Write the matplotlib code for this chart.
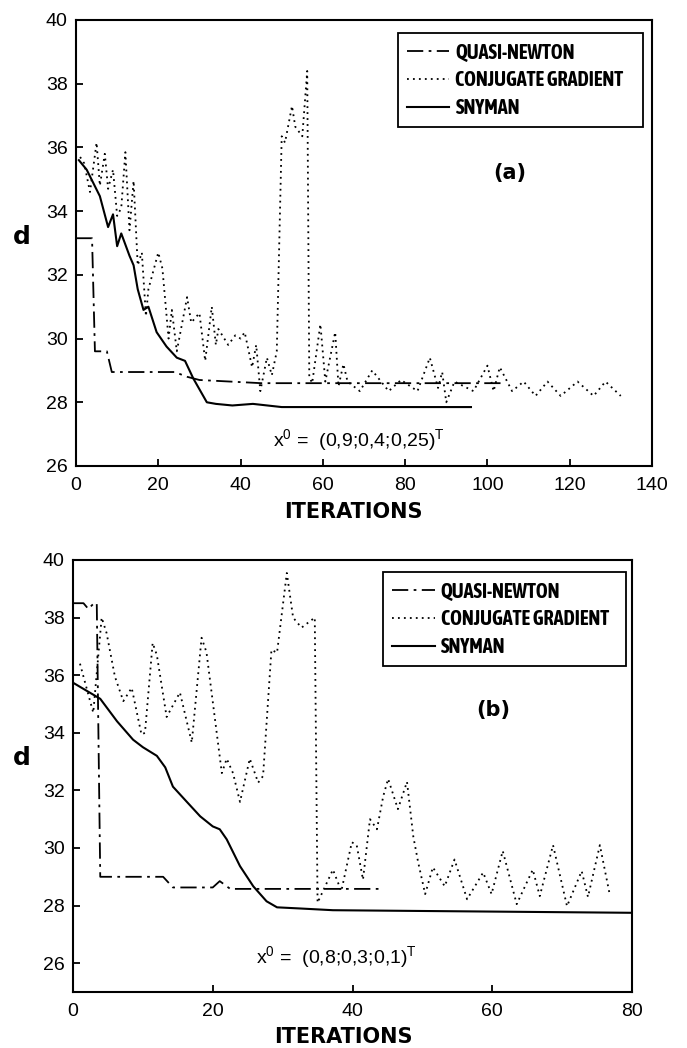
import matplotlib
matplotlib.use("Agg")
import matplotlib.pyplot as plt
from matplotlib import font_manager

# === Fonts ===
plt.rcParams['font.family'] = ['Liberation Sans', 'DejaVu Sans']
plt.rcParams['mathtext.default'] = 'regular'

# the legend in the original uses a narrow bold face; take one if installed
narrow = sorted({f.name for f in font_manager.fontManager.ttflist
                 if ('Narrow' in f.name or 'Condensed' in f.name)
                 and f.weight in ('bold', 700, 'semibold', 600)})
LEGEND_FONT = narrow[:1] + ['Liberation Sans', 'DejaVu Sans']
LEGEND_SIZE = 14.5 if narrow else 11.5

# === Data: panel (a) ===
a_qn_x = [0, 3.9, 4.6, 7.5, 8.7, 24.0, 27.0, 30.0, 45.0, 104.0]
a_qn_y = [33.15, 33.15, 29.6, 29.6, 28.95, 28.95, 28.8, 28.7, 28.6, 28.6]

a_sny_x = [0.7, 2.6, 5.8, 7.8, 9, 10, 11, 13, 14, 15, 16.4, 17.6, 19.6, 22, 24.5,
           26.5, 28.5, 31.8, 34, 38, 43, 50, 96]
a_sny_y = [35.6, 35.3, 34.47, 33.5, 33.9, 32.9, 33.3, 32.6, 32.3, 31.55, 30.9, 31.0,
           30.2, 29.75, 29.4, 29.3, 28.75, 28.0, 27.95, 27.9, 27.95, 27.85, 27.85]

a_cg_x = [1, 2, 3.4, 5, 5.8, 7, 7.8, 9, 10, 11, 12, 13, 14, 15, 16, 17, 17.6, 20, 21,
          22.5, 23.3, 24.5, 27, 28, 30, 31.4, 33, 34, 34.6, 37, 38.7, 40, 41, 42.8,
          43.8, 44.8, 46.4, 47.6, 48.8, 50, 50.8, 52.5, 53.3, 55, 55.5, 56.2, 56.7,
          57.4, 59.4, 60.6, 63, 63.8, 65, 66, 69, 72, 76, 79, 83, 86, 88, 89, 90, 92,
          96.6, 100, 101.5, 103, 106, 108.8, 111.7, 114.6, 117.8, 121.9, 125.8,
          128.7, 132.4]
a_cg_y = [35.7, 35.5, 34.6, 36.15, 34.8, 35.8, 34.7, 35.3, 33.85, 34.1, 35.85, 33.4,
          34.95, 32.3, 32.7, 30.7, 31.55, 32.7, 32.2, 30.0, 30.9, 29.6, 31.3, 30.5,
          30.8, 29.3, 31.0, 29.8, 30.3, 29.8, 30.1, 30.0, 30.2, 29.1, 29.8, 28.35,
          29.4, 28.85, 29.6, 36.35, 36.15, 37.3, 36.65, 36.35, 37.2, 38.4, 28.8,
          28.6, 30.45, 28.65, 30.2, 28.5, 29.2, 28.65, 28.35, 29.0, 28.35, 28.7,
          28.35, 29.4, 28.45, 28.95, 28.0, 28.65, 28.35, 29.15, 28.35, 29.1, 28.35,
          28.65, 28.2, 28.65, 28.2, 28.65, 28.2, 28.65, 28.2]

# === Data: panel (b) ===
b_qn_x = [0, 1.5, 2.2, 3.0, 3.4, 3.9, 12.9, 14.3, 20.0, 21.0, 22.5, 44.2]
b_qn_y = [38.5, 38.5, 38.3, 38.5, 38.5, 29.0, 29.0, 28.63, 28.63, 28.85, 28.58, 28.58]

b_sny_x = [0, 3.9, 6.3, 8.6, 10, 12, 13.2, 14.3, 16.3, 18.2, 20, 21, 22, 23.9, 25.8,
           27.7, 29.2, 32.5, 37.2, 80]
b_sny_y = [35.74, 35.18, 34.4, 33.76, 33.5, 33.2, 32.8, 32.13, 31.6, 31.1, 30.75,
           30.65, 30.3, 29.37, 28.67, 28.15, 27.94, 27.9, 27.84, 27.75]

b_cg_x = [1, 2.0, 2.9, 4.1, 4.8, 6, 7.2, 8.4, 9.8, 10.3, 11.4, 12, 13.4, 15.3, 17,
          18.4, 19.1, 21.3, 22, 22.9, 23.9, 25.3, 26.5, 27.2, 28.4, 29.2, 30.6, 31.5,
          32.7, 34.6, 35.0, 37.2, 38.4, 39.9, 40.6, 41.5, 42.5, 43.5, 44.4, 45.1,
          46.5, 47.8, 48.7, 49.4, 50.4, 51.5, 53.2, 54.6, 56.4, 58.7, 59.9, 61.5,
          63.5, 65.8, 66.8, 68.7, 70.7, 72.8, 73.7, 75.4, 76.8]
b_cg_y = [36.4, 35.5, 34.7, 38.0, 37.47, 35.95, 35.1, 35.56, 33.94, 34.0, 37.12, 36.7,
          34.55, 35.4, 33.66, 37.3, 36.8, 32.6, 33.1, 32.6, 31.6, 33.1, 32.27, 32.5,
          36.88, 36.78, 39.55, 38.0, 37.65, 38.0, 28.1, 29.25, 28.5, 30.2, 30.1, 28.9,
          31.0, 30.65, 31.8, 32.4, 31.35, 32.3, 30.4, 29.5, 28.4, 29.33, 28.67, 29.6,
          28.22, 29.15, 28.4, 29.9, 28.05, 29.25, 28.33, 30.1, 27.98, 29.2, 28.3,
          30.1, 28.4]

labels = ["QUASI-NEWTON", "CONJUGATE GRADIENT", "SNYMAN"]

QN_STYLE = (0, (9, 3, 1.5, 3))
CG_STYLE = (0, (1, 2.3))


def draw_panel(ax, qn, cg, sny, xlim, ylim, xticks, tag, tag_pos, x0_text, x0_pos,
               leg_box):
    ax.plot(qn[0], qn[1], color='black', lw=1.3, linestyle=QN_STYLE, label=labels[0])
    ax.plot(cg[0], cg[1], color='black', lw=1.3, linestyle=CG_STYLE, label=labels[1])
    ax.plot(sny[0], sny[1], color='black', lw=1.5, linestyle='-', label=labels[2])

    ax.set_xlim(*xlim)
    ax.set_ylim(*ylim)
    ax.set_xticks(xticks)
    ax.set_yticks([26, 28, 30, 32, 34, 36, 38, 40])
    ax.tick_params(direction='in', length=5, width=1.3, labelsize=14, pad=6)
    ax.tick_params(axis='x', pad=8)
    for s in ax.spines.values():
        s.set_linewidth(1.5)

    leg = ax.legend(loc='upper left', bbox_to_anchor=leg_box, mode='expand',
                    frameon=True, fancybox=False, edgecolor='black', framealpha=1,
                    handlelength=2.1, handletextpad=0.3, labelspacing=0.4,
                    borderpad=0.45, borderaxespad=0,
                    prop={'family': LEGEND_FONT, 'weight': 'bold', 'size': LEGEND_SIZE})
    leg.get_frame().set_linewidth(1.3)

    ax.text(tag_pos[0], tag_pos[1], tag, transform=ax.transAxes, fontsize=15,
            fontweight='bold', family='DejaVu Sans', ha='center', va='center')
    ax.text(x0_pos[0], x0_pos[1], x0_text, transform=ax.transAxes, fontsize=14,
            ha='center', va='center')


fig = plt.figure(figsize=(6.87, 10.48), dpi=100)

# === Panel (a) ===
ax1 = fig.add_axes([76 / 687, 1 - 466 / 1048, 576 / 687, 446 / 1048])
draw_panel(ax1, (a_qn_x, a_qn_y), (a_cg_x, a_cg_y), (a_sny_x, a_sny_y),
           (0, 140), (26, 40), [0, 20, 40, 60, 80, 100, 120, 140], "(a)",
           (0.753, 0.657), r"x$^0$ =  (0,9;0,4;0,25)$^T$", (0.491, 0.058),
           (0.559, 0.3, 0.425, 0.671))

# === Panel (b) ===
ax2 = fig.add_axes([73 / 687, 1 - 992 / 1048, 559 / 687, 432 / 1048])
draw_panel(ax2, (b_qn_x, b_qn_y), (b_cg_x, b_cg_y), (b_sny_x, b_sny_y),
           (0, 80), (25, 40), [0, 20, 40, 60, 80], "(b)",
           (0.751, 0.653), r"x$^0$ =  (0,8;0,3;0,1)$^T$", (0.472, 0.081),
           (0.555, 0.3, 0.434, 0.672))

# === Axis labels ===
for y in (237, 758):
    fig.text(22 / 687, 1 - y / 1048, "d", fontsize=18, fontweight='bold',
             family='DejaVu Sans', ha='center', va='center')
fig.text(353 / 687, 1 - 512 / 1048, "ITERATIONS", fontsize=15, fontweight='bold',
         family='DejaVu Sans', ha='center', va='center')
fig.text(343 / 687, 1 - 1037 / 1048, "ITERATIONS", fontsize=15, fontweight='bold',
         family='DejaVu Sans', ha='center', va='center')

fig.savefig("out.png", dpi=100)
